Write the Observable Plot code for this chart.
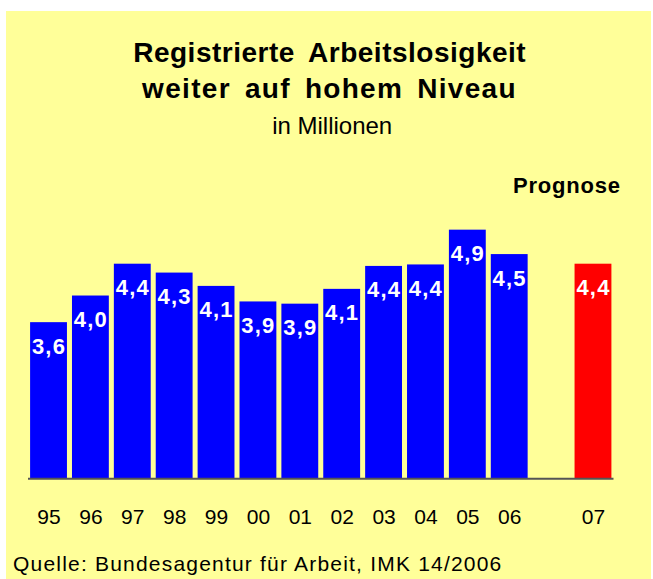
<!DOCTYPE html>
<html>
<head>
<meta charset="utf-8">
<script src="https://cdn.jsdelivr.net/npm/d3@7"></script>
<script src="https://cdn.jsdelivr.net/npm/@observablehq/plot@0.6"></script>
<style>
  html, body { margin: 0; padding: 0; background: #ffffff; }
  body { width: 653px; height: 579px; position: relative; overflow: hidden;
         font-family: "Liberation Sans", Arial, Helvetica, sans-serif; color: #000; }
  #frame { position: absolute; left: 6px; top: 11px; width: 645px; height: 568px; background: #FFFF99; }
  .t { position: absolute; white-space: nowrap; }
  #title1 { left: 329.7px; top: 38.6px; font-size: 28px; line-height: 28px; font-weight: bold;
            transform: translateX(-50%); letter-spacing: 0.5px; word-spacing: 6px; }
  #title2 { left: 329.5px; top: 74.6px; font-size: 28px; line-height: 28px; font-weight: bold;
            transform: translateX(-50%); letter-spacing: 1.3px; word-spacing: 5px; }
  #subtitle { left: 332.2px; top: 114px; font-size: 24px; line-height: 24px; transform: translateX(-50%); }
  #prognose { right: 32.2px; top: 174.7px; font-size: 22px; line-height: 22px; font-weight: bold; letter-spacing: 0.8px; }
  #source { left: 13px; top: 553.2px; font-size: 21px; line-height: 21px; letter-spacing: 1.2px; }
  #chart { position: absolute; left: 0; top: 200px; }
  #chart g[aria-label="text"] text { letter-spacing: 1.2px; }
</style>
</head>
<body>
<div id="frame"></div>
<div class="t" id="title1">Registrierte Arbeitslosigkeit</div>
<div class="t" id="title2">weiter auf hohem Niveau</div>
<div class="t" id="subtitle">in Millionen</div>
<div class="t" id="prognose">Prognose</div>
<div id="chart"></div>
<div class="t" id="source">Quelle: Bundesagentur für Arbeit, IMK 14/2006</div>
<script>
// Data (registered unemployment, millions)
const years = ["95", "96", "97", "98", "99", "00", "01", "02", "03", "04", "05", "06", "07"];
const values = [3.61, 3.97, 4.40, 4.28, 4.10, 3.89, 3.86, 4.06, 4.37, 4.39, 4.86, 4.53, 4.40];
const isForecast = [false, false, false, false, false, false, false, false, false, false, false, false, true];

const gapLabel = " ";
const xDomain = [
  ...years.filter((_, i) => !isForecast[i]),
  gapLabel,
  ...years.filter((_, i) => isForecast[i])
];

const rows = years.map((year, i) => ({
  year,
  value: values[i],
  forecast: isForecast[i],
  label: values[i].toFixed(1).replace(".", ",")
}));

const blue = "#0000FF";
const red = "#FF0000";

const svgTop = 200;
const baselineY = 478.3;
const plotTopY = 219.3;
const H = 345;

const chart = Plot.plot({
  width: 653,
  height: H,
  marginLeft: 28,
  marginRight: 39.5,
  marginTop: plotTopY - svgTop,
  marginBottom: svgTop + H - baselineY,
  style: { background: "transparent", fontFamily: "'Liberation Sans', Arial, sans-serif", fontSize: "21px", color: "#000" },
  x: { domain: xDomain, paddingInner: 0.12, paddingOuter: 0.05, round: false, axis: null },
  y: { domain: [1.5, 5.0], axis: null },
  color: { type: "identity" },
  marks: [
    Plot.barY(rows, { x: "year", y1: 1.5, y2: "value", fill: d => d.forecast ? red : blue }),
    Plot.text(rows, {
      x: "year", y: "value", text: "label", dy: 24,
      fill: "white", fontWeight: "bold", fontSize: 22, lineAnchor: "middle"
    }),
    Plot.ruleY([1.5], { stroke: "#555", strokeWidth: 2 }),
    Plot.axisX({
      tickSize: 0, tickPadding: 30, fontSize: 21, label: null,
      tickFormat: d => d === gapLabel ? "" : d
    })
  ]
});
document.getElementById("chart").appendChild(chart);
</script>
</body>
</html>
